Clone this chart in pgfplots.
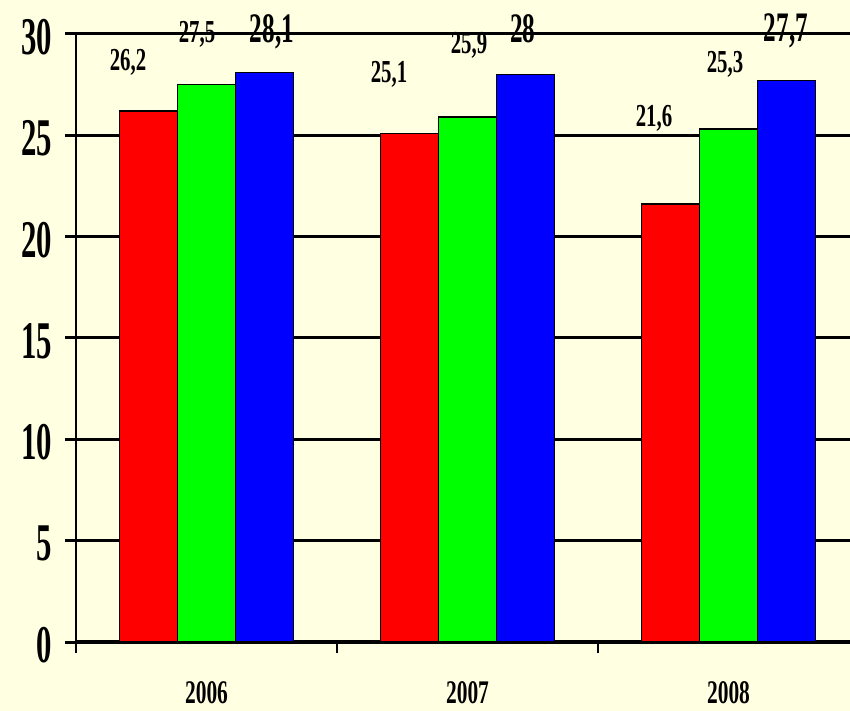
\documentclass[border=0pt]{standalone}
\usepackage{fontspec}
\setmainfont{Liberation Serif}
\newfontfamily\tickfont{Liberation Serif}[FakeStretch=0.58]
\newfontfamily\valfont{Liberation Serif}[FakeStretch=0.65]
\newfontfamily\bigfont{Liberation Serif}[FakeStretch=0.6]
\usepackage{pgfplots}
\pgfplotsset{compat=1.18}
\definecolor{bg}{HTML}{FFFFE1}
\definecolor{rred}{HTML}{FF0000}
\definecolor{ggreen}{HTML}{00FF00}
\definecolor{bblue}{HTML}{0000FF}

\begin{document}
\begin{tikzpicture}
\fill[bg] (-76pt,-69pt) rectangle (774pt,642pt);
\begin{axis}[
  scale only axis,
  width=774pt, height=608pt,
  xmin=-0.5, xmax=2.4655,
  ymin=0, ymax=30,
  clip=false,
  axis x line*=bottom,
  axis y line*=left,
  x axis line style={line width=3.5pt, -},
  y axis line style={line width=1.2pt, -},
  ytick={0,5,...,30},
  ymajorgrids=true,
  grid style={black, line width=3pt},
  ytick style={black, line width=3pt},
  tick align=outside,
  major tick length=11pt,
  yticklabel style={font=\tickfont\bfseries\fontsize{53}{53}\selectfont,
    anchor=east, inner sep=0pt, xshift=-13pt, yshift=-3pt},
  /pgf/number format/assume math mode=true,
  xtick={-0.5,0.5,1.5},
  xticklabels={},
  xtick style={black, line width=1.2pt},
  extra x ticks={0,1,2},
  extra x tick labels={2006,2007,2008},
  extra x tick style={major tick length=0pt, xtick style={draw=none},
    xticklabel style={font=\valfont\bfseries\fontsize{33}{33}\selectfont,
      anchor=north, inner sep=0pt, yshift=-39pt}},
  every node near coord/.append style={anchor=base, inner sep=0pt, black},
]
\addplot[ybar, bar width=0.2222, bar shift=-0.2222, fill=rred, draw=black, line width=1.5pt]
  coordinates {(0,26.2) (1,25.1) (2,21.6)};
\addplot[ybar, bar width=0.2222, bar shift=0, fill=ggreen, draw=black, line width=1.5pt]
  coordinates {(0,27.5) (1,25.9) (2,25.3)};
\addplot[ybar, bar width=0.2222, bar shift=0.2222, fill=bblue, draw=black, line width=1.5pt]
  coordinates {(0,28.1) (1,28.0) (2,27.7)};

% value labels, small
\addplot[draw=none, mark=none, nodes near coords, point meta=explicit symbolic,
  every node near coord/.append style={font=\valfont\bfseries\fontsize{32}{32}\selectfont}]
  table[meta=lab] {
x y lab
-0.3008 28.22 26,2
-0.0364 29.56 27,5
0.6992 27.63 25,1
1.0057 29.06 25,9
1.7146 25.46 21,6
1.9866 28.08 25,3
};
% value labels, large
\addplot[draw=none, mark=none, nodes near coords, point meta=explicit symbolic,
  every node near coord/.append style={font=\bigfont\bfseries\fontsize{42}{42}\selectfont}]
  table[meta=lab] {
x y lab
0.251 29.56 28,1
1.2126 29.56 28
2.22 29.65 27,7
};
\end{axis}
\pgfresetboundingbox
\useasboundingbox (-76pt,-69pt) rectangle (774pt,642pt);
\end{tikzpicture}
\end{document}
